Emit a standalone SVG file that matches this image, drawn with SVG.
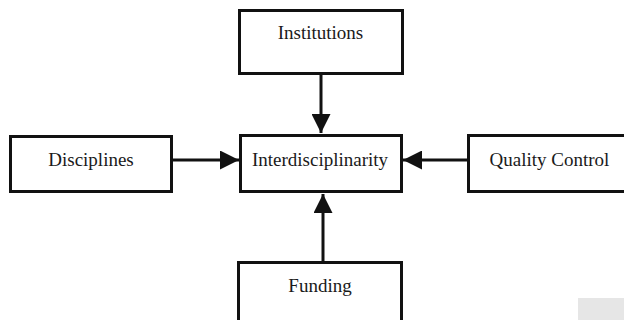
<svg xmlns="http://www.w3.org/2000/svg" width="624" height="320" viewBox="0 0 624 320">
<defs>
<style>
.box{fill:#fff;stroke:#111;stroke-width:3}
.lbl{font-family:"Liberation Serif","Times New Roman",serif;font-size:19px;fill:#1a1a1a;text-anchor:middle}
.conn{stroke:#111;stroke-width:3;fill:none}
</style>
<marker id="ah" viewBox="0 0 10 10" refX="10" refY="5" markerWidth="20" markerHeight="19" markerUnits="userSpaceOnUse" orient="auto">
<path d="M0,0 L10,5 L0,10 Z" fill="#111"/>
</marker>
</defs>
<rect width="624" height="320" fill="#fff"/>
<g id="connectors">
<line class="conn" x1="321" y1="74" x2="321" y2="133" marker-end="url(#ah)"/>
<line class="conn" x1="172" y1="160" x2="239" y2="160" marker-end="url(#ah)"/>
<line class="conn" x1="468" y1="160" x2="403" y2="160" marker-end="url(#ah)"/>
<line class="conn" x1="323" y1="261" x2="323" y2="194" marker-end="url(#ah)"/>
</g>
<g id="institutions">
<rect class="box" x="239.5" y="10.5" width="163" height="63"/>
<text class="lbl" x="320.5" y="39">Institutions</text>
</g>
<g id="disciplines">
<rect class="box" x="10.5" y="136.5" width="161" height="55"/>
<text class="lbl" x="91" y="166">Disciplines</text>
</g>
<g id="interdisciplinarity">
<rect class="box" x="240.5" y="135.5" width="161" height="56"/>
<text class="lbl" x="320" y="166">Interdisciplinarity</text>
</g>
<g id="quality-control">
<rect class="box" x="468.5" y="135.5" width="160" height="56"/>
<text class="lbl" x="549.5" y="166">Quality Control</text>
</g>
<g id="funding">
<rect class="box" x="238.5" y="262.5" width="163" height="62"/>
<text class="lbl" x="320" y="292">Funding</text>
</g>
<rect x="578" y="298" width="50" height="26" fill="#e6e6e6"/>
</svg>
